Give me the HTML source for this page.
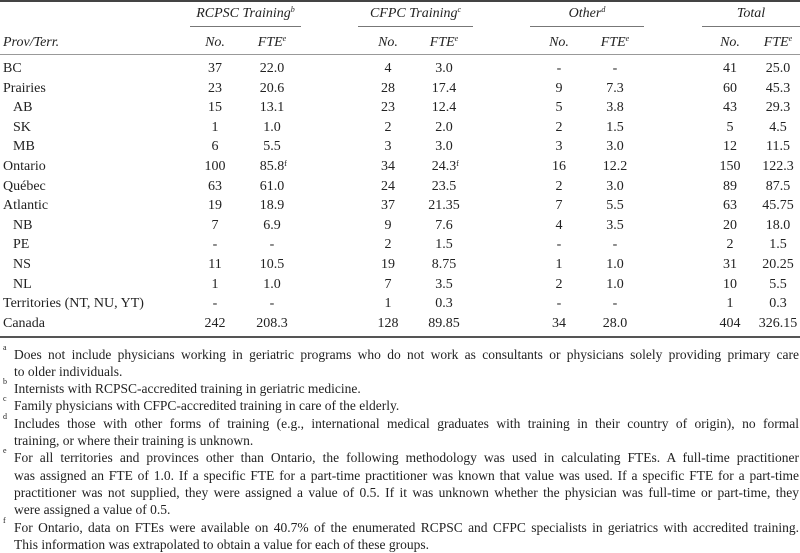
<!DOCTYPE html>
<html><head><meta charset="utf-8">
<style>
html,body{margin:0;padding:0;background:#fff;}
body{width:800px;height:553px;position:relative;overflow:hidden;font-family:"Liberation Serif",serif;font-size:14px;color:#222;}
.t{position:absolute;white-space:nowrap;line-height:16px;}
.c{text-align:center;width:80px;}
.i{font-style:italic;}
.rule{position:absolute;left:0;width:800px;}
.gl{position:absolute;height:1px;background:#777;}
sup{font-size:8px;line-height:0;vertical-align:5px;}
.fl{position:absolute;left:14px;width:785px;font-size:13.5px;line-height:17px;text-align:justify;text-align-last:justify;white-space:normal;}
.fl.last{text-align-last:left;}
.fm{position:absolute;left:3px;font-size:8px;}
</style></head>
<body>
<div class="rule" style="top:0;height:2px;background:#444"></div>
<div class="rule" style="top:54px;height:1px;background:#999"></div>
<div class="rule" style="top:336px;height:2px;background:#555"></div>
<div id="tbl"></div>
<div id="notes"></div>
<script>
const groups = ["RCPSC Training","CFPC Training","Other","Total"];
const groupSup = ["b","c","d",""];
const rowLabels = ["BC","Prairies","AB","SK","MB","Ontario","Québec","Atlantic","NB","PE","NS","NL","Territories (NT, NU, YT)","Canada"];
const indented = [false,false,true,true,true,false,false,false,true,true,true,true,false,false];
const rcpscNo = ["37","23","15","1","6","100","63","19","7","-","11","1","-","242"];
const rcpscFte = ["22.0","20.6","13.1","1.0","5.5","85.8","61.0","18.9","6.9","-","10.5","1.0","-","208.3"];
const cfpcNo = ["4","28","23","2","3","34","24","37","9","2","19","7","1","128"];
const cfpcFte = ["3.0","17.4","12.4","2.0","3.0","24.3","23.5","21.35","7.6","1.5","8.75","3.5","0.3","89.85"];
const otherNo = ["-","9","5","2","3","16","2","7","4","-","1","2","-","34"];
const otherFte = ["-","7.3","3.8","1.5","3.0","12.2","3.0","5.5","3.5","-","1.0","1.0","-","28.0"];
const totalNo = ["41","60","43","5","12","150","89","63","20","2","31","10","1","404"];
const totalFte = ["25.0","45.3","29.3","4.5","11.5","122.3","87.5","45.75","18.0","1.5","20.25","5.5","0.3","326.15"];
const fteSup = {"0-5":"f","1-5":"f"};
const noteMarks = ["a","b","c","d","e","f"];
const noteLinesText = [
 ["Does not include physicians working in geriatric programs who do not work as consultants or physicians solely providing primary care","to older individuals."],
 ["Internists with RCPSC-accredited training in geriatric medicine."],
 ["Family physicians with CFPC-accredited training in care of the elderly."],
 ["Includes those with other forms of training (e.g., international medical graduates with training in their country of origin), no formal","training, or where their training is unknown."],
 ["For all territories and provinces other than Ontario, the following methodology was used in calculating FTEs. A full-time practitioner","was assigned an FTE of 1.0. If a specific FTE for a part-time practitioner was known that value was used. If a specific FTE for a part-time","practitioner was not supplied, they were assigned a value of 0.5. If it was unknown whether the physician was full-time or part-time, they","were assigned a value of 0.5."],
 ["For Ontario, data on FTEs were available on 40.7% of the enumerated RCPSC and CFPC specialists in geriatrics with accredited training.","This information was extrapolated to obtain a value for each of these groups."]
];

const tbl = document.getElementById('tbl');
const gx = [[190,301],[358,473],[530,644],[702,800]];
const colC = [[215,272],[388,444],[559,615],[730,778]];
const cols = [[rcpscNo,rcpscFte],[cfpcNo,cfpcFte],[otherNo,otherFte],[totalNo,totalFte]];
function mkc(cls, cx, y, html){
  const d=document.createElement('div');
  d.className='t c '+cls;
  d.style.left=(cx-40)+'px';
  d.style.top=(y-8)+'px';
  d.innerHTML=html;
  tbl.appendChild(d);
  return d;
}
groups.forEach((g,gi)=>{
  const d=document.createElement('div');
  d.className='t i';
  d.style.left=gx[gi][0]+'px';d.style.width=(gx[gi][1]-gx[gi][0])+'px';d.style.textAlign='center';
  d.style.top=(14-8)+'px';
  d.innerHTML=g+(groupSup[gi]?'<sup>'+groupSup[gi]+'</sup>':'');
  
  
  tbl.appendChild(d);
  const l=document.createElement('div');
  l.className='gl';l.style.left=gx[gi][0]+'px';l.style.width=(gx[gi][1]-gx[gi][0])+'px';l.style.top='26px';
  
  
  tbl.appendChild(l);
  const n=mkc('i',colC[gi][0],43,'No.');
  
  
  const f=mkc('i',colC[gi][1],43,'FTE<sup>e</sup>');
  
  
});
const ph=document.createElement('div');
ph.className='t i';ph.style.left='3px';ph.style.top='35px';ph.textContent='Prov/Terr.';


tbl.appendChild(ph);
const y0=69, pitch=19.6;
rowLabels.forEach((lab,ri)=>{
  const y=y0+ri*pitch;
  const d=document.createElement('div');
  d.className='t';d.style.left=(indented[ri]?13:3)+'px';d.style.top=(y-8)+'px';d.textContent=lab;
  
  
  tbl.appendChild(d);
  cols.forEach((pair,gi)=>{
    const a=mkc('',colC[gi][0],y,pair[0][ri]);
    
    
    const s=fteSup[gi+'-'+ri];
    const b=mkc('',colC[gi][1],y,s?'<span style="position:relative">'+pair[1][ri]+'<sup style="position:absolute;left:100%;top:5px">'+s+'</sup></span>':pair[1][ri]);
    
    
  });
});
const nd=document.getElementById('notes');
let ny=354-8.5;
noteLinesText.forEach((lines,i)=>{
  const m=document.createElement('div');
  m.className='fm';m.style.top=(ny-3)+'px';m.textContent=noteMarks[i];
  
  
  nd.appendChild(m);
  lines.forEach((ln,li)=>{
    const p=document.createElement('div');
    p.className='fl'+(li===lines.length-1?' last':'');
    p.style.top=ny+'px';p.textContent=ln;
    
    
    nd.appendChild(p);
    ny+=17.3;
  });
});
</script>
</body></html>
